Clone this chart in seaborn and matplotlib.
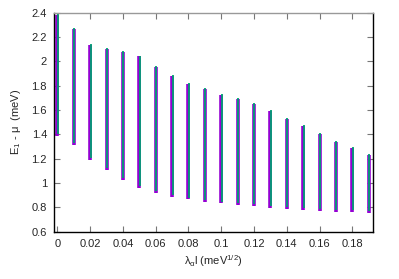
import matplotlib
matplotlib.use("Agg")
import matplotlib.pyplot as plt
import seaborn as sns
import pandas as pd
from matplotlib.ticker import FormatStrFormatter, MultipleLocator

# coupling values (x positions)
lam = [0.00, 0.01, 0.02, 0.03, 0.04, 0.05, 0.06, 0.07, 0.08, 0.09,
       0.10, 0.11, 0.12, 0.13, 0.14, 0.15, 0.16, 0.17, 0.18, 0.19]

# series 1 (purple): lower / upper end of each band
e1_low = [1.39, 1.31, 1.19, 1.11, 1.025, 0.96, 0.92, 0.888, 0.866, 0.847,
          0.833, 0.817, 0.809, 0.797, 0.786, 0.778, 0.772, 0.764, 0.762, 0.756]
e1_high = [2.38, 2.27, 2.135, 2.10, 2.075, 2.04, 1.955, 1.88, 1.815, 1.77,
           1.725, 1.69, 1.65, 1.59, 1.53, 1.465, 1.40, 1.34, 1.29, 1.23]

# series 2 (green): slightly shorter band
e2_low = [1.405, 1.325, 1.205, 1.125, 1.04, 0.975, 0.935, 0.903, 0.881, 0.862,
          0.848, 0.832, 0.824, 0.812, 0.801, 0.793, 0.787, 0.779, 0.777, 0.771]
e2_high = [2.388, 2.278, 2.143, 2.108, 2.083, 2.048, 1.963, 1.888, 1.823, 1.778,
           1.733, 1.698, 1.658, 1.598, 1.538, 1.473, 1.408, 1.348, 1.298, 1.238]


def to_long(x, lo, hi):
    rows = []
    for xi, a, b in zip(x, lo, hi):
        rows.append({"lam": xi, "E": a})
        rows.append({"lam": xi, "E": b})
    return pd.DataFrame(rows)


df1 = to_long(lam, e1_low, e1_high)
df2 = to_long(lam, e2_low, e2_high)
df2["lam"] = df2["lam"] + 0.0003

sns.set_style("ticks")
plt.rcParams["font.family"] = ["Liberation Sans", "DejaVu Sans"]
plt.rcParams["mathtext.fontset"] = "custom"
plt.rcParams["mathtext.rm"] = "Liberation Sans"
plt.rcParams["mathtext.it"] = "Liberation Sans"

fig = plt.figure(figsize=(3.99, 2.79), dpi=100)
ax = fig.add_axes([0.1353, 0.1695, 0.7997, 0.785])

sns.lineplot(data=df1, x="lam", y="E", units="lam", estimator=None, sort=False,
             color="#9400d3", linewidth=2.6, solid_capstyle="butt", ax=ax)
sns.lineplot(data=df2, x="lam", y="E", units="lam", estimator=None, sort=False,
             color="#009e73", linewidth=1.3, solid_capstyle="butt", ax=ax)

ax.set_xlim(-0.0021, 0.1927)
ax.set_ylim(0.6, 2.4)
ax.xaxis.set_major_locator(MultipleLocator(0.02))
ax.yaxis.set_major_locator(MultipleLocator(0.2))
ax.xaxis.set_major_formatter(FormatStrFormatter("%g"))
ax.yaxis.set_major_formatter(FormatStrFormatter("%g"))
ax.tick_params(direction="in", length=4, width=0.8, color="#777777",
               labelsize=8, top=True, right=True, pad=5)

for side in ["left", "bottom", "right"]:
    ax.spines[side].set_color("black")
    ax.spines[side].set_linewidth(1.0)
ax.spines["top"].set_color("#999999")
ax.spines["top"].set_linewidth(1.0)

ax.set_xlabel(r"$\lambda_\alpha$l (meV$^{1/2}$)", fontsize=8, labelpad=3)
ax.set_ylabel(r"E$_1$ - $\mu$  (meV)", fontsize=8, labelpad=6)

fig.savefig("out.png", dpi=100)
